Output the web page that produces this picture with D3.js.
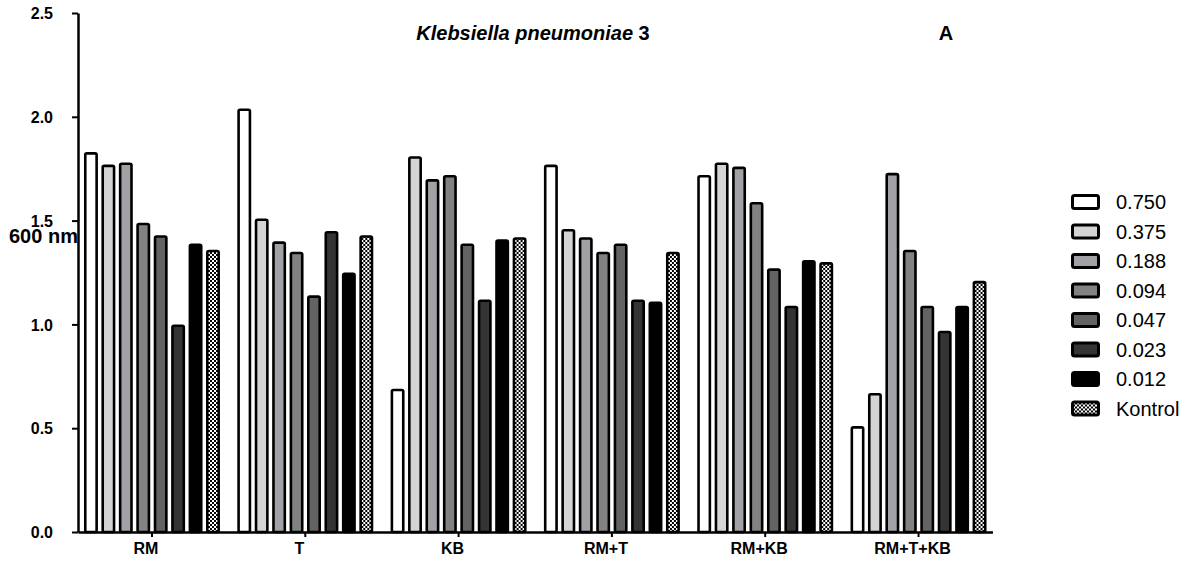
<!DOCTYPE html>
<html>
<head>
<meta charset="utf-8">
<script src="https://d3js.org/d3.v7.min.js"></script>
<style>
  body { margin: 0; background: #fff; }
  text { font-family: Arial, "Liberation Sans", sans-serif; }
</style>
</head>
<body>
<div id="chart"></div>
<script>
// data (OD at 600 nm)
var groups = ["RM", "T", "KB", "RM+T", "RM+KB", "RM+T+KB"];
var series = ["0.750", "0.375", "0.188", "0.094", "0.047", "0.023", "0.012", "Kontrol"];
var yTicks = [0.0, 0.5, 1.0, 1.5, 2.0, 2.5];

var rmValues    = [1.83, 1.77, 1.78, 1.49, 1.43, 1.00, 1.39, 1.36];
var tValues     = [2.04, 1.51, 1.40, 1.35, 1.14, 1.45, 1.25, 1.43];
var kbValues    = [0.69, 1.81, 1.70, 1.72, 1.39, 1.12, 1.41, 1.42];
var rmtValues   = [1.77, 1.46, 1.42, 1.35, 1.39, 1.12, 1.11, 1.35];
var rmkbValues  = [1.72, 1.78, 1.76, 1.59, 1.27, 1.09, 1.31, 1.30];
var rmtkbValues = [0.51, 0.67, 1.73, 1.36, 1.09, 0.97, 1.09, 1.21];

var allValues = [rmValues, tValues, kbValues, rmtValues, rmkbValues, rmtkbValues];

var svgWidth = 1203;
var svgHeight = 563;

var plot = { left: 78, right: 992.5, top: 13, bottom: 532 };

var svg = d3.select("#chart")
  .append("svg")
  .attr("width", svgWidth)
  .attr("height", svgHeight);

// checker pattern for the Kontrol bars
var pat = svg.append("defs").append("pattern")
  .attr("id", "checker")
  .attr("patternUnits", "userSpaceOnUse")
  .attr("width", 4)
  .attr("height", 4);
pat.append("rect").attr("width", 4).attr("height", 4).attr("fill", "#000");
pat.append("rect").attr("x", 0).attr("y", 0).attr("width", 2).attr("height", 2).attr("fill", "#fff");
pat.append("rect").attr("x", 2).attr("y", 2).attr("width", 2).attr("height", 2).attr("fill", "#fff");

var fill = d3.scaleOrdinal()
  .domain(series)
  .range(["#ffffff", "#d4d4d4", "#a2a2a6", "#828282", "#636363", "#343434", "#000000", "url(#checker)"]);

// scales
var yScale = d3.scaleLinear()
  .domain([0, 2.5])
  .range([plot.bottom, plot.top]);

var x0 = d3.scaleBand()
  .domain(groups)
  .range([plot.left, plot.right])
  .paddingInner(0.113)
  .paddingOuter(0.039);

var x1 = d3.scaleBand()
  .domain(series)
  .range([0, x0.bandwidth()])
  .paddingInner(0.2);

// bars
var rows = groups.map(function(g, i) {
  return series.map(function(s, j) {
    return { group: g, key: s, value: allValues[i][j] };
  });
});

var sw = 2.6;

svg.append("g").selectAll("g")
  .data(rows)
  .enter()
  .append("g")
  .attr("transform", (d, i) => `translate(${x0(groups[i])},0)`)
  .selectAll("rect")
  .data(d => d)
  .enter()
  .append("rect")
  .attr("x", d => x1(d.key) + sw / 2)
  .attr("width", x1.bandwidth() - sw)
  .attr("y", d => yScale(d.value) + sw / 2)
  .attr("height", d => plot.bottom - yScale(d.value) - sw / 2)
  .attr("rx", 1.5)
  .attr("fill", d => fill(d.key))
  .attr("stroke", "#000")
  .attr("stroke-width", sw);

// y axis
var yAxis = svg.append("g")
  .attr("transform", `translate(${plot.left},0)`)
  .call(d3.axisLeft(yScale).tickValues(yTicks).tickFormat(d3.format(".1f")).tickSize(6).tickSizeOuter(0));

yAxis.select(".domain").attr("stroke-width", 2.5);
yAxis.selectAll(".tick line").attr("stroke-width", 2);
yAxis.selectAll(".tick text")
  .attr("x", -25)
  .attr("dy", "0.36em")
  .attr("font-size", 16)
  .attr("font-weight", "bold")
  .attr("font-family", "Arial, 'Liberation Sans', sans-serif");

// x axis
var xAxis = svg.append("g")
  .attr("transform", `translate(0,${plot.bottom})`)
  .call(d3.axisBottom(x0).tickSize(5).tickSizeOuter(0));

xAxis.select(".domain").attr("stroke-width", 2.5);
xAxis.selectAll(".tick line").attr("stroke-width", 2);
xAxis.selectAll(".tick text")
  .attr("y", 11)
  .attr("dx", -6)
  .attr("font-size", 16)
  .attr("font-weight", "bold")
  .attr("font-family", "Arial, 'Liberation Sans', sans-serif");

// axis title
svg.append("text")
  .attr("x", 9)
  .attr("y", 243)
  .attr("font-size", 20)
  .attr("font-weight", "bold")
  .text("600 nm");

// chart title
var title = svg.append("text")
  .attr("x", 533)
  .attr("y", 40)
  .attr("text-anchor", "middle")
  .attr("font-size", 20)
  .attr("font-weight", "bold");
title.append("tspan").attr("font-style", "italic").text("Klebsiella pneumoniae");
title.append("tspan").text(" 3");

svg.append("text")
  .attr("x", 946)
  .attr("y", 40)
  .attr("text-anchor", "middle")
  .attr("font-size", 20)
  .attr("font-weight", "bold")
  .text("A");

// legend
var legend = svg.append("g")
  .attr("transform", "translate(1071,202)");

var legendItem = legend.selectAll("g")
  .data(series)
  .enter()
  .append("g")
  .attr("transform", (d, i) => `translate(0,${i * 29.5})`);

legendItem.append("rect")
  .attr("x", 1.5)
  .attr("y", -6.5)
  .attr("width", 26)
  .attr("height", 13)
  .attr("rx", 2)
  .attr("fill", d => fill(d))
  .attr("stroke", "#000")
  .attr("stroke-width", 3);

legendItem.append("text")
  .attr("x", 45)
  .attr("y", 7)
  .attr("font-size", 20)
  .text(d => d);
</script>
</body>
</html>
